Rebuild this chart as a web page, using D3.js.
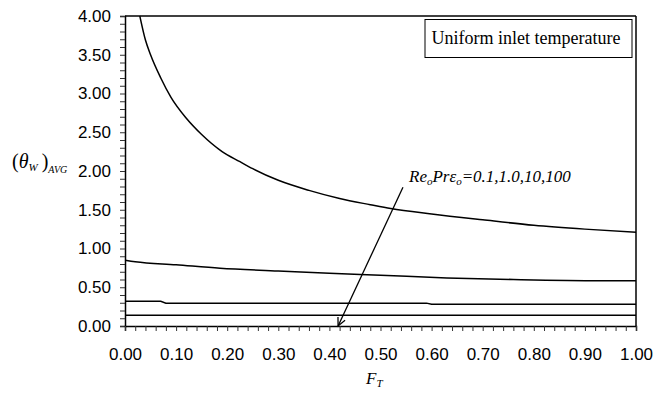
<!DOCTYPE html>
<html>
<head>
<meta charset="utf-8">
<script src="https://cdn.jsdelivr.net/npm/d3@7"></script>
<style>
  html, body { margin: 0; padding: 0; background: #fff; }
  svg { display: block; }
</style>
</head>
<body>
<svg id="chart" width="667" height="397"></svg>
<script>
// ---- data ----
const seriesNames = ["0.1", "1.0", "10", "100"];
const fT1 = [0.029, 0.04, 0.05, 0.07, 0.09, 0.12, 0.15, 0.19, 0.225, 0.25, 0.30, 0.36, 0.42, 0.48, 0.52, 0.60, 0.70, 0.80, 0.90, 1.00];
const theta1 = [4.0, 3.69, 3.50, 3.20, 2.95, 2.68, 2.47, 2.25, 2.12, 2.03, 1.88, 1.75, 1.645, 1.565, 1.515, 1.445, 1.37, 1.30, 1.25, 1.21];
const fT2 = [0.0, 0.02, 0.10, 0.186, 0.30, 0.40, 0.50, 0.63, 0.76, 0.93, 1.00];
const theta2 = [0.85, 0.83, 0.79, 0.745, 0.71, 0.68, 0.655, 0.62, 0.60, 0.585, 0.585];
const fT3 = [0.0, 0.07, 0.08, 0.59, 0.60, 1.00];
const theta3 = [0.318, 0.318, 0.295, 0.295, 0.28, 0.28];
const fT4 = [0.0, 1.0];
const theta4 = [0.138, 0.138];
const xTickLabels = ["0.00","0.10","0.20","0.30","0.40","0.50","0.60","0.70","0.80","0.90","1.00"];
const yTickLabels = ["0.00","0.50","1.00","1.50","2.00","2.50","3.00","3.50","4.00"];
const legendText = "Uniform inlet temperature";
// arrow annotation: start / end in data units
const arrowF = [0.544, 0.417];
const arrowTheta = [1.79, 0.0];

// ---- layout ----
const svg = d3.select("#chart");
const L = 125, R = 636, T = 16, B = 326;
const x = d3.scaleLinear().domain([0, 1]).range([L, R]);
const y = d3.scaleLinear().domain([0, 4]).range([B, T]);

const tickFont = "'Liberation Sans', Arial, sans-serif";
const serif = "'Liberation Serif', 'Times New Roman', serif";

// frame top & right
svg.append("line").attr("x1", L).attr("x2", R).attr("y1", T).attr("y2", T)
  .attr("stroke", "#000").attr("stroke-width", 1.5);
svg.append("line").attr("x1", R).attr("x2", R).attr("y1", T).attr("y2", B)
  .attr("stroke", "#000").attr("stroke-width", 1.5);

// y axis
const yMinor = d3.range(0, 41).map(i => i / 10);
const yAxis = d3.axisLeft(y).tickValues(yMinor).tickSize(5).tickPadding(9)
  .tickFormat(d => {
    const k = Math.round(d * 10);
    return k % 5 === 0 ? yTickLabels[k / 5] : "";
  });
const gy = svg.append("g").attr("transform", `translate(${L},0)`).call(yAxis);
gy.select(".domain").attr("stroke", "#000").attr("stroke-width", 1.5);
gy.selectAll(".tick line").attr("stroke", "#333");
gy.selectAll("text").attr("font-family", tickFont).attr("font-size", 17).attr("fill", "#000");

// x axis
const xMinor = d3.range(0, 51).map(i => i / 50);
const xAxis = d3.axisBottom(x).tickValues(xMinor).tickSize(5).tickPadding(17)
  .tickFormat(d => {
    const k = Math.round(d * 50);
    return k % 5 === 0 ? xTickLabels[k / 5] : "";
  });
const gx = svg.append("g").attr("transform", `translate(0,${B})`).call(xAxis);
gx.select(".domain").attr("stroke", "#000").attr("stroke-width", 1.5);
gx.selectAll(".tick line").attr("stroke", "#333");
gx.selectAll("text").attr("font-family", tickFont).attr("font-size", 17).attr("fill", "#000");

// curves
const smooth = d3.line().x(d => x(d[0])).y(d => y(d[1])).curve(d3.curveMonotoneX);
const straight = d3.line().x(d => x(d[0])).y(d => y(d[1]));
const series = [
  { pts: d3.zip(fT1, theta1), gen: smooth },
  { pts: d3.zip(fT2, theta2), gen: smooth },
  { pts: d3.zip(fT3, theta3), gen: straight },
  { pts: d3.zip(fT4, theta4), gen: straight }
];
svg.append("g").selectAll("path").data(series).join("path")
  .attr("d", d => d.gen(d.pts)).attr("fill", "none").attr("stroke", "#000").attr("stroke-width", 1.5);

// legend box
const box = svg.append("g");
box.append("rect").attr("x", 425).attr("y", 19.5).attr("width", 207).attr("height", 38)
  .attr("fill", "#fff").attr("stroke", "#000").attr("stroke-width", 1);
box.append("text").attr("x", 526).attr("y", 44).attr("text-anchor", "middle")
  .attr("font-family", serif).attr("font-size", 18).text(legendText);

// annotation text
const ann = svg.append("text").attr("x", 409).attr("y", 182)
  .attr("font-family", serif).attr("font-size", 17).attr("font-style", "italic");
ann.append("tspan").text("Re");
ann.append("tspan").attr("font-size", 11).attr("dy", 3).text("o");
ann.append("tspan").attr("dy", -3).text("Pr\u03B5");
ann.append("tspan").attr("font-size", 11).attr("dy", 3).text("o");
ann.append("tspan").attr("dy", -3).text("=" + seriesNames.join(","));

// arrow
const ax1 = x(arrowF[0]), ay1 = y(arrowTheta[0]), ax2 = x(arrowF[1]), ay2 = y(arrowTheta[1]);
svg.append("line").attr("x1", ax1).attr("y1", ay1).attr("x2", ax2).attr("y2", ay2)
  .attr("stroke", "#000").attr("stroke-width", 1.3);
const ang = Math.atan2(ay1 - ay2, ax1 - ax2);
const hl = 9, spread = 0.45;
const head = [
  [ax2 + hl * Math.cos(ang - spread), ay2 + hl * Math.sin(ang - spread)],
  [ax2, ay2],
  [ax2 + hl * Math.cos(ang + spread), ay2 + hl * Math.sin(ang + spread)]
];
svg.append("path").attr("d", d3.line()(head)).attr("fill", "none")
  .attr("stroke", "#000").attr("stroke-width", 1.3);

// y-axis label (θw)AVG
const yl = svg.append("text").attr("x", 12).attr("y", 168)
  .attr("font-family", serif).attr("font-size", 20);
yl.append("tspan").text("(");
yl.append("tspan").attr("font-style", "italic").text("\u03B8");
yl.append("tspan").attr("font-style", "italic").attr("font-size", 11).attr("dy", 3).text("W");
yl.append("tspan").attr("dy", -3).attr("dx", 4).text(")");
yl.append("tspan").attr("font-style", "italic").attr("font-size", 10).attr("dy", 5).text("AVG");

// x-axis label F_T
const xl = svg.append("text").attr("x", 366).attr("y", 384)
  .attr("font-family", serif).attr("font-size", 17).attr("font-style", "italic");
xl.append("tspan").text("F");
xl.append("tspan").attr("font-size", 11).attr("dy", 3).text("T");
</script>
</body>
</html>
